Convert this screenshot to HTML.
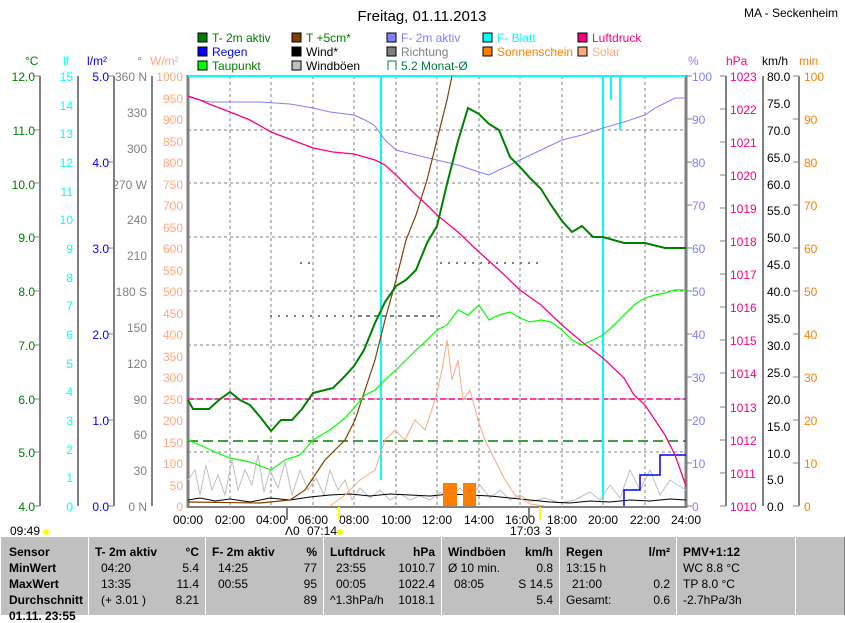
<!DOCTYPE html>
<html><head><meta charset="utf-8"><style>
body{margin:0;width:845px;height:615px;overflow:hidden;background:#fff;font-family:"Liberation Sans",sans-serif}
svg{position:absolute;left:0;top:0}
text{font-family:"Liberation Sans",sans-serif;font-size:12px}
.tb{position:absolute;left:0;top:537px;width:845px;height:78px;background:#c0c0c0}
.col{position:absolute;top:0;height:78px;border-left:1px solid #fff;border-right:1px solid #808080;font-size:12px}
.col div{position:absolute;white-space:nowrap}
</style></head><body>
<svg width="845" height="537" viewBox="0 0 845 537">
<text x="422" y="21" font-size="15" text-anchor="middle" style="font-size:15px">Freitag, 01.11.2013</text>
<text x="838" y="17" text-anchor="end">MA - Seckenheim</text>
<g stroke="#000" stroke-width="1">
<rect x="198" y="33" width="9" height="9" fill="#008000"/><rect x="292" y="33" width="9" height="9" fill="#804000"/><rect x="387" y="33" width="9" height="9" fill="#8080ff"/><rect x="483" y="33" width="9" height="9" fill="#00ffff"/><rect x="578" y="33" width="9" height="9" fill="#ff0080"/>
<rect x="198" y="47" width="9" height="9" fill="#0000ff"/><rect x="292" y="47" width="9" height="9" fill="#000"/><rect x="387" y="47" width="9" height="9" fill="#808080"/><rect x="483" y="47" width="9" height="9" fill="#ff8000"/><rect x="578" y="47" width="9" height="9" fill="#ffa880"/>
<rect x="198" y="61" width="9" height="9" fill="#00ff00"/><rect x="292" y="61" width="9" height="9" fill="#c0c0c0"/>
</g>
<path d="M388 70V61h8v9" fill="none" stroke="#008040"/>
<g>
<text x="212" y="42" fill="#008000">T- 2m aktiv</text><text x="306" y="42" fill="#008000">T +5cm*</text><text x="401" y="42" fill="#8080ff">F- 2m aktiv</text><text x="497" y="42" fill="#00ffff">F- Blatt</text><text x="592" y="42" fill="#ff0080">Luftdruck</text>
<text x="212" y="56" fill="#0000ff">Regen</text><text x="306" y="56">Wind*</text><text x="401" y="56" fill="#808080">Richtung</text><text x="497" y="56" fill="#ff8000">Sonnenschein</text><text x="592" y="56" fill="#ffa880">Solar</text>
<text x="212" y="70" fill="#008000">Taupunkt</text><text x="306" y="70">Windböen</text><text x="401" y="70" fill="#008040">5.2 Monat-Ø</text>
</g>
<text x="25" y="65" fill="#008000">°C</text><text x="63" y="65" fill="#00ffff">lf</text><text x="87" y="65" fill="#0000ff">l/m²</text><text x="137" y="65" fill="#808080">°</text><text x="150" y="65" fill="#ffa880">W/m²</text>
<text x="688" y="65" fill="#8080ff">%</text><text x="726" y="65" fill="#ff0080">hPa</text><text x="762" y="65">km/h</text><text x="799" y="65" fill="#ff8000">min</text>
<g stroke="#808080" stroke-dasharray="3,3" stroke-width="1">
<path d="M188 130H686M188 183H686M188 237H686M188 291H686M188 345H686M188 399H686M188 452H686"/>
<path d="M230 76V506M271 76V506M313 76V506M354 76V506M396 76V506M437 76V506M479 76V506M520 76V506M562 76V506M603 76V506M645 76V506"/>
</g>
<g stroke="#808080" stroke-width="2" fill="none">
<path d="M40 76V506M78 76V506M114 76V506M152 76V506M726 76V506M763 76V506M799 76V506"/>
</g>
<g stroke="#808080" stroke-width="1">
<path d="M34 76H40M34 130H40M34 183H40M34 237H40M34 291H40M34 345H40M34 399H40M34 452H40M34 506H40"/>
<path d="M108 76H114M108 162H114M108 248H114M108 334H114M108 420H114M108 506H114"/>
<path d="M686 76H692M686 119H692M686 162H692M686 205H692M686 248H692M686 291H692M686 334H692M686 377H692M686 420H692M686 463H692M686 506H692"/>
<path d="M720 76H726M720 109H726M720 142H726M720 175H726M720 208H726M720 241H726M720 274H726M720 307H726M720 340H726M720 373H726M720 407H726M720 440H726M720 473H726M720 506H726"/>
<path d="M793 76H799M793 119H799M793 162H799M793 205H799M793 248H799M793 291H799M793 334H799M793 377H799M793 420H799M793 463H799M793 506H799"/>
</g>
<path d="M188 75V508M686 75V508" stroke="#808080" stroke-width="3"/>
<path d="M188 507H686" stroke="#808080" stroke-width="2"/>
<g text-anchor="end" font-size="12">
<g fill="#008000"><text x="35" y="81">12.0</text><text x="35" y="135">11.0</text><text x="35" y="189">10.0</text><text x="35" y="242">9.0</text><text x="35" y="296">8.0</text><text x="35" y="350">7.0</text><text x="35" y="404">6.0</text><text x="35" y="457">5.0</text><text x="35" y="511">4.0</text></g>
<g fill="#00ffff"><text x="73" y="81">15</text><text x="73" y="110">14</text><text x="73" y="138">13</text><text x="73" y="167">12</text><text x="73" y="196">11</text><text x="73" y="224">10</text><text x="73" y="253">9</text><text x="73" y="282">8</text><text x="73" y="310">7</text><text x="73" y="339">6</text><text x="73" y="368">5</text><text x="73" y="396">4</text><text x="73" y="425">3</text><text x="73" y="454">2</text><text x="73" y="482">1</text><text x="73" y="511">0</text></g>
<g fill="#0000ff"><text x="109" y="81">5.0</text><text x="109" y="167">4.0</text><text x="109" y="253">3.0</text><text x="109" y="339">2.0</text><text x="109" y="425">1.0</text><text x="109" y="511">0.0</text></g>
<g fill="#808080"><text x="147" y="81">360 N</text><text x="147" y="117">330</text><text x="147" y="153">300</text><text x="147" y="189">270 W</text><text x="147" y="224">240</text><text x="147" y="260">210</text><text x="147" y="296">180 S</text><text x="147" y="332">150</text><text x="147" y="368">120</text><text x="147" y="404">90</text><text x="147" y="439">60</text><text x="147" y="475">30</text><text x="147" y="511">0 N</text></g>
<g fill="#ffa880"><text x="183" y="81">1000</text><text x="183" y="103">950</text><text x="183" y="124">900</text><text x="183" y="146">850</text><text x="183" y="167">800</text><text x="183" y="189">750</text><text x="183" y="210">700</text><text x="183" y="232">650</text><text x="183" y="253">600</text><text x="183" y="275">550</text><text x="183" y="296">500</text><text x="183" y="318">450</text><text x="183" y="339">400</text><text x="183" y="361">350</text><text x="183" y="382">300</text><text x="183" y="404">250</text><text x="183" y="425">200</text><text x="183" y="447">150</text><text x="183" y="468">100</text><text x="183" y="490">50</text><text x="183" y="511">0</text></g>
</g>
<g>
<g fill="#8080ff"><text x="692" y="81">100</text><text x="692" y="124">90</text><text x="692" y="167">80</text><text x="692" y="210">70</text><text x="692" y="253">60</text><text x="692" y="296">50</text><text x="692" y="339">40</text><text x="692" y="382">30</text><text x="692" y="425">20</text><text x="692" y="468">10</text><text x="692" y="511">0</text></g>
<g fill="#ff0080"><text x="730" y="81">1023</text><text x="730" y="114">1022</text><text x="730" y="147">1021</text><text x="730" y="180">1020</text><text x="730" y="213">1019</text><text x="730" y="246">1018</text><text x="730" y="279">1017</text><text x="730" y="312">1016</text><text x="730" y="345">1015</text><text x="730" y="378">1014</text><text x="730" y="412">1013</text><text x="730" y="445">1012</text><text x="730" y="478">1011</text><text x="730" y="511">1010</text></g>
<g><text x="767" y="81">80.0</text><text x="767" y="108">75.0</text><text x="767" y="135">70.0</text><text x="767" y="162">65.0</text><text x="767" y="189">60.0</text><text x="767" y="215">55.0</text><text x="767" y="242">50.0</text><text x="767" y="269">45.0</text><text x="767" y="296">40.0</text><text x="767" y="323">35.0</text><text x="767" y="350">30.0</text><text x="767" y="377">25.0</text><text x="767" y="404">20.0</text><text x="767" y="431">15.0</text><text x="767" y="458">10.0</text><text x="767" y="484">5.0</text><text x="767" y="511">0.0</text></g>
<g fill="#ff8000"><text x="804" y="81">100</text><text x="804" y="124">90</text><text x="804" y="167">80</text><text x="804" y="210">70</text><text x="804" y="253">60</text><text x="804" y="296">50</text><text x="804" y="339">40</text><text x="804" y="382">30</text><text x="804" y="425">20</text><text x="804" y="468">10</text><text x="804" y="511">0</text></g>
</g>
<g text-anchor="middle"><text x="188" y="524">00:00</text><text x="230" y="524">02:00</text><text x="271" y="524">04:00</text><text x="313" y="524">06:00</text><text x="354" y="524">08:00</text><text x="396" y="524">10:00</text><text x="437" y="524">12:00</text><text x="479" y="524">14:00</text><text x="520" y="524">16:00</text><text x="562" y="524">18:00</text><text x="603" y="524">20:00</text><text x="645" y="524">22:00</text><text x="686" y="524">24:00</text></g>
<text x="10" y="535">09:49</text><circle cx="46" cy="532" r="3" fill="#ffff00"/>
<text x="285" y="535">Λ0</text><text x="307" y="535">07:14</text><circle cx="340" cy="532" r="3" fill="#ffff00"/>
<text x="510" y="535">17:03</text><text x="545" y="535">3</text>
<path d="M287 507V520M529 507V520" stroke="#808080" stroke-width="2"/>
<path d="M339 507V520M540 507V520" stroke="#ffff00" stroke-width="2"/>
<path d="M188 441H686" stroke="#008000" stroke-dasharray="10,5" stroke-width="1.5"/>
<path d="M188 399H686" stroke="#ff0080" stroke-dasharray="6,3" stroke-width="1.5"/>
<path d="M188 76H686M381 76V480M603 76V500M611 76V100M620 76V130" stroke="#00ffff" stroke-width="2" fill="none"/>
<polyline fill="none" stroke="#c0c0c0" points="188,480 195,470 200,495 206,465 212,490 218,475 225,495 232,460 238,490 245,470 252,485 258,455 264,492 270,470 278,488 285,462 292,495 300,470 308,490 316,478 324,495 330,470 338,490 345,480 352,500 360,488 370,498 380,490 390,500 400,494 410,500 420,496 430,500 440,492 450,498 460,488 470,498 480,485 490,498 500,490 510,500 520,495 530,502 545,498 560,503 575,500 590,492 600,500 610,485 620,498 630,470 640,490 650,470 660,495 670,480 686,490"/>
<polyline fill="none" stroke="#000" points="188,500 200,498 215,501 230,499 250,502 270,498 290,500 310,497 330,495 350,494 370,496 390,494 410,495 430,496 450,494 470,495 490,496 510,498 530,500 550,502 570,503 590,501 610,502 630,500 650,501 670,499 686,500"/>
<polyline fill="none" stroke="#ffa880" points="330,506 345,495 360,480 375,470 385,440 395,430 405,440 415,420 425,430 435,400 442,370 447,340 452,380 458,360 463,400 470,390 478,420 485,440 495,460 505,480 515,495 530,504 545,506"/>
<rect x="443" y="483" width="14" height="23" fill="#ff8000"/><rect x="463" y="483" width="13" height="23" fill="#ff8000"/>
<path d="M624 506V490H640V475H660V455H686" fill="none" stroke="#0000ff" stroke-width="1.5"/>
<path d="M270 316h170M300 263h10M440 263h100M360 316h80" stroke="#808080" stroke-dasharray="2,6" stroke-width="2"/>
<polyline fill="none" stroke="#8080ff" points="188,97 200,100 210,102 260,102 290,104 313,108 330,112 354,115 365,120 375,126 385,140 396,150 416,155 437,160 458,165 479,172 489,175 499,170 510,165 520,160 541,150 562,140 582,135 603,128 624,122 645,115 655,108 665,103 675,98 686,98"/>
<polyline fill="none" stroke="#ff0080" stroke-width="1.3" points="188,96 200,100 209,104 230,112 250,120 271,132 292,140 313,148 333,152 354,154 375,160 385,165 396,175 406,185 416,195 427,205 437,215 458,232 479,252 499,270 520,290 541,305 562,325 582,342 603,358 624,378 634,395 645,405 655,420 665,435 675,455 686,486"/>
<polyline fill="none" stroke="#804000" stroke-width="1.2" points="188,502 260,503 290,500 305,490 315,475 325,460 335,450 345,440 355,420 365,390 375,360 385,320 396,280 406,240 416,215 427,180 437,140 447,100 452,76 M497,76 505,110 515,150 525,180 535,200 545,240 555,280 565,295 575,300 585,315 593,300 603,300 624,300 645,300 655,285 665,290 675,282 686,285"/>
<polyline fill="none" stroke="#00ff00" stroke-width="1.2" points="188,440 200,445 215,452 230,458 250,462 271,470 285,460 300,455 313,440 330,430 345,418 354,408 365,395 375,390 385,380 396,370 406,360 416,350 427,340 437,330 447,325 458,310 468,315 479,305 489,320 499,315 510,312 520,318 530,322 541,320 551,322 562,330 572,340 582,345 593,340 603,335 614,325 624,315 634,305 645,298 655,295 665,293 675,290 686,290"/>
<polyline fill="none" stroke="#008000" stroke-width="2" points="188,400 193,409 209,409 219,400 230,392 240,400 250,405 261,418 271,431 281,420 292,420 302,409 313,393 333,388 344,377 354,366 364,350 375,323 385,302 396,286 406,280 416,270 427,243 437,226 447,184 458,141 468,108 479,114 489,124 499,130 510,157 520,167 530,178 541,189 551,205 562,221 572,232 582,226 593,237 603,237 624,243 645,243 665,248 686,248"/>
</svg>
<div class="tb">
<div class="col" style="left:0;width:87px"><div style="left:8px;top:8px;font-weight:bold">Sensor</div><div style="left:8px;top:24px;font-weight:bold">MinWert</div><div style="left:8px;top:40px;font-weight:bold">MaxWert</div><div style="left:8px;top:56px;font-weight:bold">Durchschnitt</div><div style="left:8px;top:72px;font-weight:bold">01.11. 23:55</div></div>
<div class="col" style="left:88px;width:116px"><div style="left:6px;top:8px;font-weight:bold">T- 2m aktiv</div><div style="right:6px;top:8px;font-weight:bold">°C</div><div style="left:12px;top:24px">04:20</div><div style="right:6px;top:24px">5.4</div><div style="left:12px;top:40px">13:35</div><div style="right:6px;top:40px">11.4</div><div style="left:12px;top:56px">(+ 3.01 )</div><div style="right:6px;top:56px">8.21</div></div>
<div class="col" style="left:205px;width:117px"><div style="left:6px;top:8px;font-weight:bold">F- 2m aktiv</div><div style="right:6px;top:8px;font-weight:bold">%</div><div style="left:12px;top:24px">14:25</div><div style="right:6px;top:24px">77</div><div style="left:12px;top:40px">00:55</div><div style="right:6px;top:40px">95</div><div style="right:6px;top:56px">89</div></div>
<div class="col" style="left:323px;width:117px"><div style="left:6px;top:8px;font-weight:bold">Luftdruck</div><div style="right:6px;top:8px;font-weight:bold">hPa</div><div style="left:12px;top:24px">23:55</div><div style="right:6px;top:24px">1010.7</div><div style="left:12px;top:40px">00:05</div><div style="right:6px;top:40px">1022.4</div><div style="left:6px;top:56px">^1.3hPa/h</div><div style="right:6px;top:56px">1018.1</div></div>
<div class="col" style="left:441px;width:117px"><div style="left:6px;top:8px;font-weight:bold">Windböen</div><div style="right:6px;top:8px;font-weight:bold">km/h</div><div style="left:6px;top:24px">Ø 10 min.</div><div style="right:6px;top:24px">0.8</div><div style="left:12px;top:40px">08:05</div><div style="right:6px;top:40px">S 14.5</div><div style="right:6px;top:56px">5.4</div></div>
<div class="col" style="left:559px;width:116px"><div style="left:6px;top:8px;font-weight:bold">Regen</div><div style="right:6px;top:8px;font-weight:bold">l/m²</div><div style="left:6px;top:24px">13:15 h</div><div style="left:12px;top:40px">21:00</div><div style="right:6px;top:40px">0.2</div><div style="left:6px;top:56px">Gesamt:</div><div style="right:6px;top:56px">0.6</div></div>
<div class="col" style="left:676px;width:118px"><div style="left:6px;top:8px;font-weight:bold">PMV+1:12</div><div style="left:6px;top:24px">WC 8.8 °C</div><div style="left:6px;top:40px">TP 8.0 °C</div><div style="left:6px;top:56px">-2.7hPa/3h</div></div>
<div class="col" style="left:795px;width:48px"></div>
</div>
</body></html>
